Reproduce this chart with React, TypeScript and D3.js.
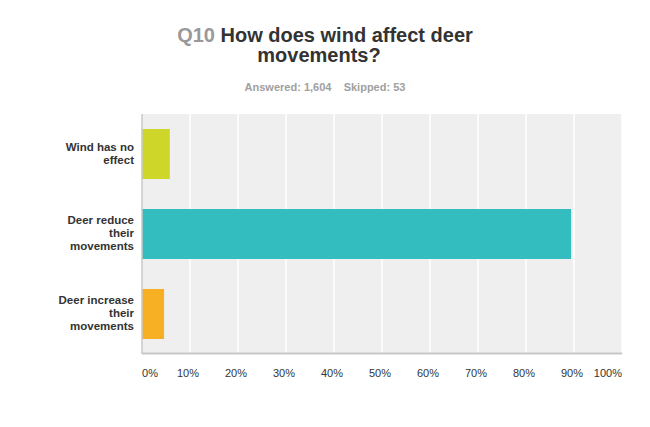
import React from "react";
import * as d3 from "d3";

const categories: string[][] = [
  ["Wind has no", "effect"],
  ["Deer reduce", "their", "movements"],
  ["Deer increase", "their", "movements"],
];
const values: number[] = [5.8, 89.4, 4.6];
const colors: string[] = ["#cfd62a", "#33bdbf", "#f7b023"];
const ticks: number[] = [0, 10, 20, 30, 40, 50, 60, 70, 80, 90, 100];

const W = 650;
const H = 427;
const left = 142;
const right = 622;
const top = 114;
const bottom = 354;
const font = "Arial, 'Liberation Sans', Helvetica, sans-serif";

export default function App() {
  const x = d3.scaleLinear().domain([0, 100]).range([left, right]);
  const y = d3
    .scaleBand<number>()
    .domain(values.map((_, i) => i))
    .range([top, bottom])
    .paddingInner(0.375)
    .paddingOuter(0.1875);

  return (
    <svg
      width={W}
      height={H}
      style={{ position: "absolute", left: 0, top: 0, background: "#fff" }}
      fontFamily={font}
    >
      <text x={325} y={41.5} textAnchor="middle" fontSize={20} fontWeight="bold" fill="#333">
        <tspan fill="#999">Q10</tspan> How does wind affect deer
      </text>
      <text x={319} y={61.5} textAnchor="middle" fontSize={20} fontWeight="bold" fill="#333">
        movements?
      </text>
      <text x={325} y={91} textAnchor="middle" fontSize={11} fontWeight="bold" fill="#a0a0a0" xmlSpace="preserve">
        Answered: 1,604{"    "}Skipped: 53
      </text>

      <rect x={left} y={top} width={right - left} height={bottom - top} fill="#efefef" />
      {ticks.slice(1).map((t) => (
        <line key={t} x1={x(t)} x2={x(t)} y1={top} y2={bottom} stroke="#fff" strokeWidth={1.5} />
      ))}
      {values.map((v, i) => (
        <rect
          key={i}
          x={x(0)}
          y={y(i)}
          width={x(v) - x(0)}
          height={y.bandwidth()}
          fill={colors[i]}
        />
      ))}
      <line x1={left} x2={left} y1={top} y2={bottom} stroke="#c8c8c8" strokeWidth={1.5} />
      <line x1={left} x2={right} y1={bottom - 0.5} y2={bottom - 0.5} stroke="#c8c8c8" strokeWidth={2} />

      {ticks.map((t, i) => (
        <text
          key={t}
          x={i === 0 ? x(t) : i === ticks.length - 1 ? x(t) : x(t) - 2}
          y={377}
          fontSize={11}
          fill="#333"
          textAnchor={i === 0 ? "start" : i === ticks.length - 1 ? "end" : "middle"}
        >
          {t}%
        </text>
      ))}

      {categories.map((lines, i) => {
        const cy = (y(i) as number) + y.bandwidth() / 2;
        const lh = 13;
        const start = cy - ((lines.length - 1) * lh) / 2 + 3;
        return (
          <text key={i} textAnchor="end" fontSize={11.5} fontWeight="bold" fill="#333">
            {lines.map((l, j) => (
              <tspan key={j} x={134} y={start + j * lh}>
                {l}
              </tspan>
            ))}
          </text>
        );
      })}
    </svg>
  );
}
